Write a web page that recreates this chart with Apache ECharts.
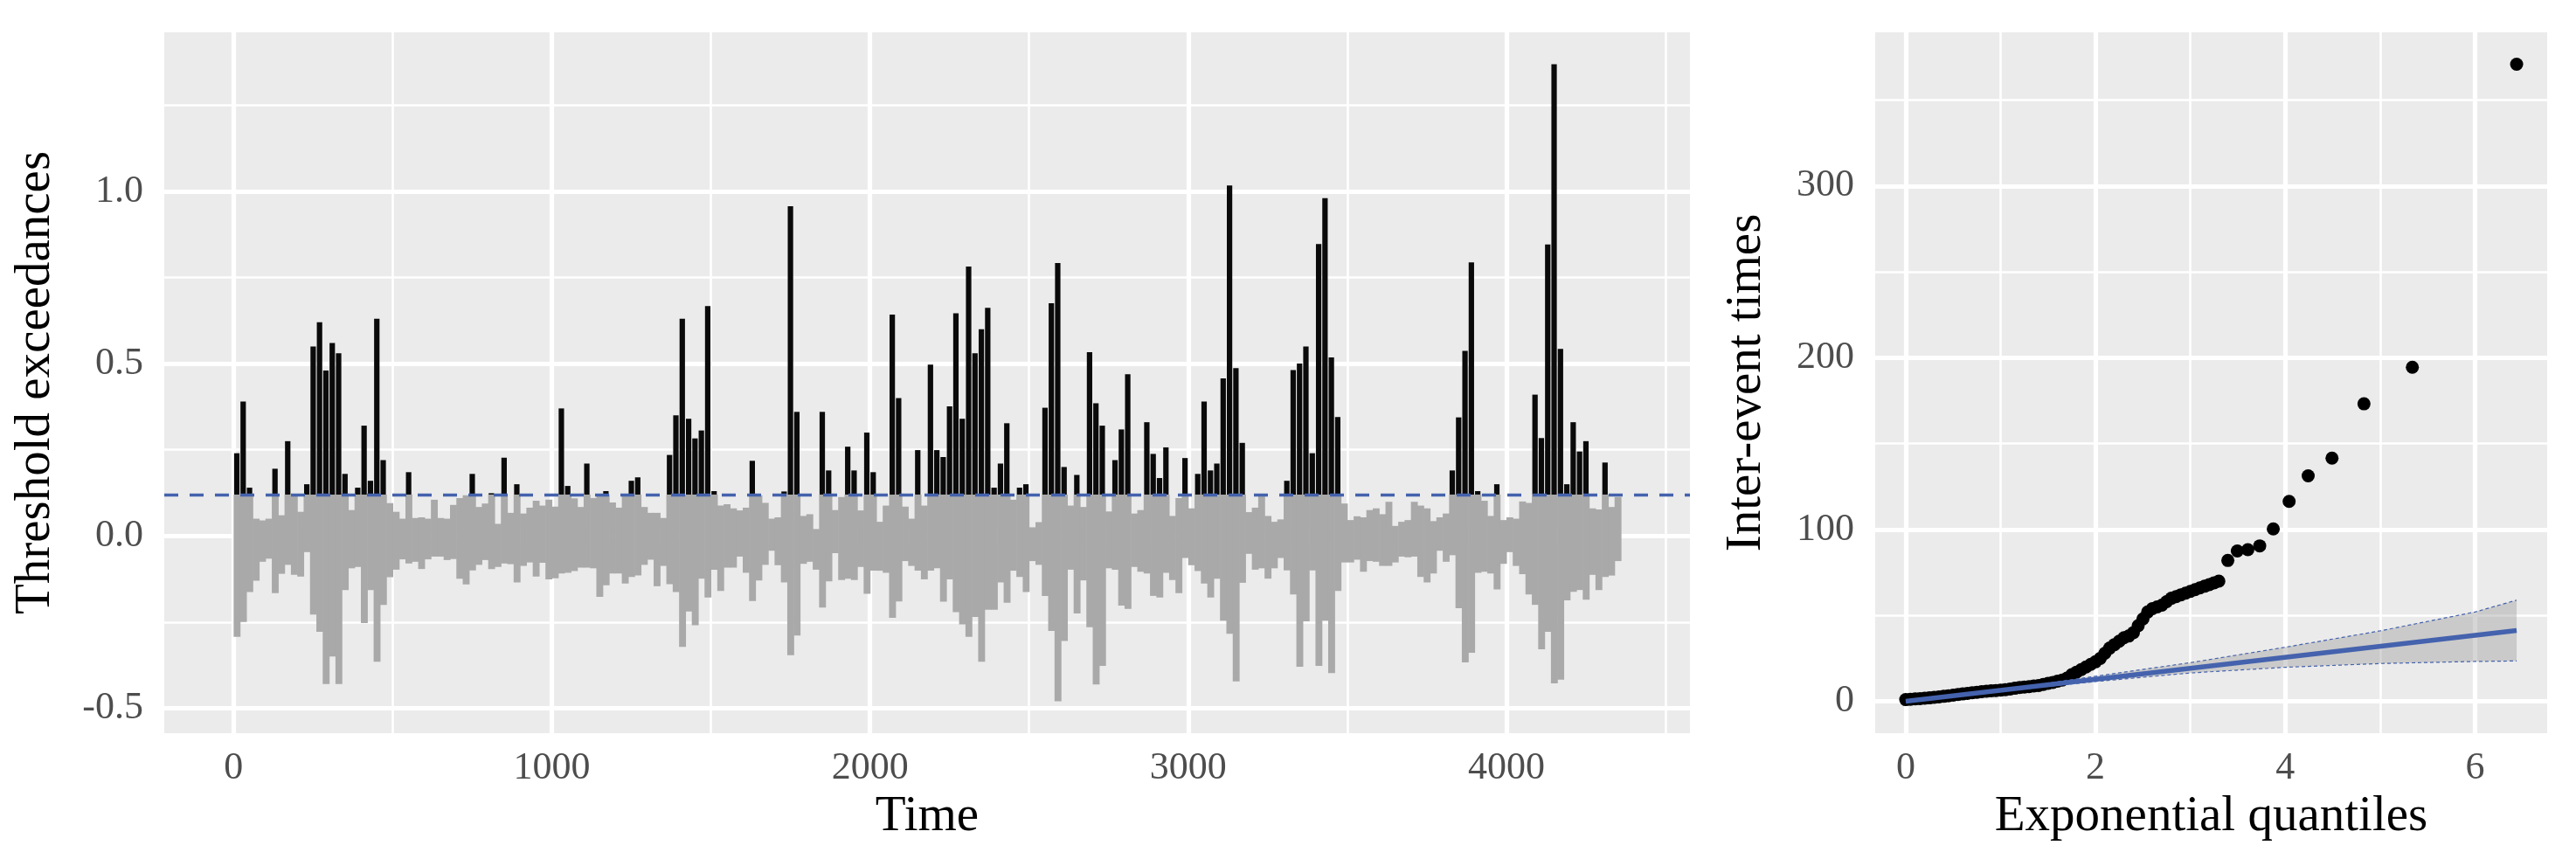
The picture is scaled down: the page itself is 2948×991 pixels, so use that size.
<!DOCTYPE html>
<html>
<head>
<meta charset="utf-8">
<script src="https://cdn.jsdelivr.net/npm/echarts@6/dist/echarts.min.js"></script>
<style>
  html, body { margin: 0; padding: 0; background: #ffffff; }
  #chart { width: 2948px; height: 991px; }
</style>
</head>
<body>
<div id="chart"></div>
<script>
// left panel: the series summarised per 20-step bin (highest and lowest value in the bin)
const binWidth = 20
const seriesEnd = 4359
const threshold = 0.12
const binHigh = [
  0.24, 0.39, 0.14, 0.05, 0.045, 0.05, 0.195, 0.06, 0.275, 0.115, 0.07, 0.15, 0.55, 0.62, 0.48, 0.56, 0.53, 0.18, 0.075, 0.14,
  0.32, 0.16, 0.63, 0.22, 0.095, 0.07, 0.05, 0.185, 0.052, 0.054, 0.05, 0.105, 0.052, 0.05, 0.09, 0.11, 0.118, 0.18, 0.084, 0.094,
  0.124, 0.035, 0.227, 0.067, 0.15, 0.065, 0.082, 0.102, 0.088, 0.105, 0.085, 0.37, 0.145, 0.109, 0.084, 0.21, 0.11, 0.115, 0.13, 0.097,
  0.082, 0.118, 0.16, 0.17, 0.084, 0.067, 0.067, 0.052, 0.235, 0.35, 0.63, 0.34, 0.283, 0.306, 0.667, 0.13, 0.088, 0.092, 0.08, 0.074,
  0.082, 0.218, 0.118, 0.096, 0.05, 0.054, 0.129, 0.957, 0.36, 0.058, 0.063, 0.02, 0.36, 0.19, 0.075, 0.113, 0.259, 0.19, 0.074, 0.3,
  0.185, 0.041, 0.088, 0.642, 0.4, 0.085, 0.05, 0.249, 0.088, 0.497, 0.249, 0.229, 0.376, 0.646, 0.34, 0.782, 0.53, 0.6, 0.662, 0.14,
  0.21, 0.327, 0.105, 0.14, 0.15, 0.025, 0.04, 0.372, 0.675, 0.792, 0.2, 0.088, 0.177, 0.084, 0.533, 0.385, 0.32, 0.071, 0.22, 0.309,
  0.469, 0.065, 0.075, 0.33, 0.238, 0.168, 0.257, 0.058, 0.11, 0.226, 0.08, 0.18, 0.39, 0.19, 0.21, 0.457, 1.017, 0.487, 0.27, 0.069,
  0.082, 0.118, 0.058, 0.041, 0.048, 0.16, 0.481, 0.5, 0.55, 0.24, 0.847, 0.98, 0.518, 0.345, 0.094, 0.046, 0.057, 0.054, 0.075, 0.08,
  0.063, 0.099, 0.029, 0.041, 0.046, 0.099, 0.088, 0.08, 0.043, 0.054, 0.065, 0.19, 0.344, 0.537, 0.794, 0.13, 0.102, 0.058, 0.15, 0.046,
  0.054, 0.05, 0.1, 0.096, 0.41, 0.284, 0.846, 1.369, 0.543, 0.15, 0.33, 0.245, 0.275, 0.08, 0.077, 0.213, 0.084, 0.113
]
const binLow = [
  -0.293, -0.25, -0.163, -0.13, -0.075, -0.066, -0.166, -0.11, -0.084, -0.113, -0.118, -0.047, -0.228, -0.278, -0.43, -0.35, -0.43, -0.157, -0.094, -0.09,
  -0.253, -0.157, -0.365, -0.2, -0.12, -0.098, -0.068, -0.08, -0.075, -0.096, -0.068, -0.06, -0.06, -0.07, -0.067, -0.124, -0.141, -0.1, -0.084, -0.07,
  -0.096, -0.09, -0.08, -0.082, -0.135, -0.087, -0.077, -0.118, -0.078, -0.126, -0.123, -0.109, -0.107, -0.102, -0.092, -0.092, -0.094, -0.177, -0.143, -0.109,
  -0.109, -0.138, -0.119, -0.115, -0.084, -0.069, -0.146, -0.087, -0.14, -0.163, -0.322, -0.219, -0.259, -0.124, -0.179, -0.098, -0.16, -0.092, -0.092, -0.06,
  -0.107, -0.189, -0.129, -0.084, -0.043, -0.085, -0.135, -0.346, -0.289, -0.081, -0.075, -0.098, -0.208, -0.132, -0.05, -0.128, -0.124, -0.128, -0.09, -0.168,
  -0.101, -0.101, -0.107, -0.238, -0.19, -0.073, -0.087, -0.101, -0.126, -0.101, -0.094, -0.191, -0.126, -0.221, -0.257, -0.293, -0.235, -0.365, -0.214, -0.214,
  -0.135, -0.194, -0.101, -0.119, -0.163, -0.073, -0.084, -0.174, -0.276, -0.48, -0.305, -0.098, -0.225, -0.129, -0.265, -0.431, -0.377, -0.094, -0.098, -0.202,
  -0.212, -0.09, -0.104, -0.109, -0.174, -0.179, -0.107, -0.128, -0.166, -0.064, -0.085, -0.102, -0.138, -0.179, -0.124, -0.246, -0.284, -0.422, -0.136, -0.052,
  -0.098, -0.094, -0.124, -0.094, -0.064, -0.1, -0.17, -0.38, -0.248, -0.1, -0.377, -0.246, -0.398, -0.16, -0.077, -0.077, -0.069, -0.104, -0.073, -0.075,
  -0.087, -0.087, -0.077, -0.06, -0.062, -0.06, -0.119, -0.135, -0.109, -0.043, -0.075, -0.056, -0.21, -0.367, -0.339, -0.107, -0.104, -0.109, -0.155, -0.081,
  -0.047, -0.087, -0.111, -0.17, -0.2, -0.329, -0.278, -0.428, -0.417, -0.187, -0.162, -0.157, -0.185, -0.113, -0.157, -0.119, -0.115, -0.073
]
const timeTicks = [0, 1000, 2000, 3000, 4000]
const timeMinor = [500, 1500, 2500, 3500, 4500]
const valueTicks = [-0.5, 0, 0.5, 1]
const valueMinor = [-0.25, 0.25, 0.75, 1.25]

// right panel: QQ plot of inter-event times against exponential quantiles
const qqX = [
  0, 0.05, 0.1, 0.15, 0.2, 0.25, 0.3, 0.35, 0.4, 0.45, 0.5, 0.55, 0.6, 0.65, 0.7, 0.75, 0.8, 0.85, 0.9, 0.95,
  1, 1.05, 1.1, 1.15, 1.2, 1.25, 1.3, 1.35, 1.4, 1.45, 1.5, 1.55, 1.6, 1.65, 1.7, 1.75, 1.8, 1.85, 1.9, 1.95,
  2, 2.05, 2.1, 2.15, 2.2, 2.25, 2.3, 2.35, 2.4, 2.45, 2.5, 2.55, 2.6, 2.65, 2.7, 2.75, 2.8, 2.85, 2.9, 2.95,
  3, 3.05, 3.1, 3.15, 3.2, 3.25, 3.3, 3.395, 3.495, 3.606, 3.731, 3.874, 4.041, 4.242, 4.493, 4.83, 5.34, 6.439
]
const qqY = [
  1, 1.2, 1.4, 1.6, 1.8, 2, 2.3, 2.6, 2.9, 3.2, 3.6, 4, 4.3, 4.6, 5, 5.3, 5.6, 5.9, 6.1, 6.3,
  6.5, 6.8, 7.2, 7.6, 8, 8.3, 8.6, 8.9, 9.2, 9.8, 10.5, 11, 11.7, 12.4, 13.5, 15.5, 17, 18.5, 20, 21.5,
  23, 25, 28, 31, 33, 35, 37, 38, 40, 44, 48, 52, 54, 55, 56, 58, 60, 61, 62, 63,
  64, 65, 66, 67, 68, 69, 70, 82, 87.5, 88.3, 90.5, 100.4, 116.4, 131.3, 141.6, 173.2, 194.5, 370.9
]
const fitX = [0, 6.439]
const fitY = [0, 41.2]
const bandX = [0, 1, 2, 3, 4, 5, 6, 6.439]
const bandUpper = [0.3, 6.8, 14.6, 22.5, 31.5, 41, 52, 58.9]
const bandLower = [-0.3, 5.9, 11.5, 16.5, 19.8, 22, 23.2, 23.5]
const quantTicks = [0, 2, 4, 6]
const quantMinor = [1, 3, 5]
const timeGapTicks = [0, 100, 200, 300]
const timeGapMinor = [50, 150, 250, 350]

const font = "'Liberation Serif', serif"
const bg = '#ebebeb'
const blue = '#4462ad'

// ggplot-style 5% expansion of the data ranges
function expand (lo, hi) {
  const pad = (hi - lo) * 0.05
  return [lo - pad, hi + pad]
}
const xL = expand(0, seriesEnd)
const yL = expand(Math.min(...binLow), Math.max(...binHigh))
const xR = expand(0, Math.max(...qqX))
const yR = expand(0, Math.max(...qqY))

// one item per bin: [bin start, low, high]
const bins = binHigh.map((h, k) => [k * binWidth, binLow[k], h])
const exceedBins = bins.filter(b => b[2] > threshold)

function gridLines (xs, ys, width) {
  return xs.map(v => ({ xAxis: v, lineStyle: { width } }))
    .concat(ys.map(v => ({ yAxis: v, lineStyle: { width } })))
}
function gridSeries (idx, xMajor, xMinor, yMajor, yMinor) {
  return {
    type: 'line', xAxisIndex: idx, yAxisIndex: idx, data: [], z: 1, silent: true,
    markLine: {
      z: 1, silent: true, symbol: ['none', 'none'], label: { show: false }, animation: false,
      emphasis: { disabled: true },
      lineStyle: { color: '#ffffff', type: 'solid' },
      data: gridLines(xMinor, yMinor, 2.6).concat(gridLines(xMajor, yMajor, 5.2))
    }
  }
}

function xAxisOf (idx, range, ticks, name, fmt) {
  return {
    gridIndex: idx, type: 'value', min: range[0], max: range[1],
    axisLine: { show: false },
    splitLine: { show: false },
    axisTick: { show: true, length: 12, customValues: ticks, lineStyle: { color: '#333333', width: 4 } },
    axisLabel: { customValues: ticks, color: '#4d4d4d', fontFamily: font, fontSize: 44, margin: 18, formatter: fmt },
    name, nameLocation: 'middle', nameGap: 68,
    nameTextStyle: { color: '#000000', fontFamily: font, fontSize: 57 }
  }
}
function yAxisOf (idx, range, ticks, name, fmt) {
  return {
    gridIndex: idx, type: 'value', min: range[0], max: range[1],
    axisLine: { show: false },
    splitLine: { show: false },
    axisTick: { show: true, length: 12, customValues: ticks, lineStyle: { color: '#333333', width: 4 } },
    axisLabel: { customValues: ticks, color: '#4d4d4d', fontFamily: font, fontSize: 44, margin: 24, formatter: fmt },
    name, nameLocation: 'middle', nameGap: 118,
    nameTextStyle: { color: '#000000', fontFamily: font, fontSize: 57 }
  }
}

const chart = echarts.init(document.getElementById('chart'), null, { renderer: 'canvas' })
chart.setOption({
  animation: false,
  backgroundColor: '#ffffff',
  grid: [
    { left: 188, top: 37, width: 1746, height: 802, show: true, backgroundColor: bg, borderWidth: 0, outerBoundsMode: 'none' },
    { left: 2146, top: 37, width: 769, height: 802, show: true, backgroundColor: bg, borderWidth: 0, outerBoundsMode: 'none' }
  ],
  xAxis: [
    xAxisOf(0, xL, timeTicks, 'Time', v => String(v)),
    xAxisOf(1, xR, quantTicks, 'Exponential quantiles', v => String(v))
  ],
  yAxis: [
    yAxisOf(0, yL, valueTicks, 'Threshold exceedances', v => v.toFixed(1)),
    yAxisOf(1, yR, timeGapTicks, 'Inter-event times', v => String(v))
  ],
  series: [
    gridSeries(0, timeTicks, timeMinor, valueTicks, valueMinor),
    {
      // grey part of the series, up to the threshold
      type: 'custom', xAxisIndex: 0, yAxisIndex: 0, z: 2, silent: true,
      data: bins,
      renderItem: (params, api) => {
        const t0 = api.value(0)
        const top = api.coord([t0, Math.min(api.value(2), threshold)])
        const bottom = api.coord([t0 + binWidth, api.value(1)])
        return {
          type: 'rect',
          shape: { x: top[0], y: top[1], width: bottom[0] - top[0] + 0.6, height: bottom[1] - top[1] },
          style: { fill: '#a9a9a9' }
        }
      }
    },
    {
      // black part above the threshold
      type: 'custom', xAxisIndex: 0, yAxisIndex: 0, z: 3, silent: true,
      data: exceedBins,
      renderItem: (params, api) => {
        const mid = api.value(0) + binWidth / 2
        const top = api.coord([mid, api.value(2)])
        const base = api.coord([mid, threshold])
        return {
          type: 'rect',
          shape: { x: top[0] - 3.1, y: top[1], width: 6.2, height: base[1] - top[1] },
          style: { fill: '#0a0a0a' }
        }
      }
    },
    {
      type: 'line', xAxisIndex: 0, yAxisIndex: 0, data: [], z: 4, silent: true,
      markLine: {
        z: 6, silent: true, symbol: ['none', 'none'], label: { show: false }, animation: false,
        lineStyle: { color: blue, width: 3.4, type: [16, 13] },
        data: [{ yAxis: threshold }]
      }
    },
    gridSeries(1, quantTicks, quantMinor, timeGapTicks, timeGapMinor),
    {
      type: 'scatter', xAxisIndex: 1, yAxisIndex: 1, z: 2, silent: true,
      data: qqX.map((x, i) => [x, qqY[i]]),
      symbolSize: 15, itemStyle: { color: '#000000', opacity: 1 }
    },
    {
      type: 'custom', xAxisIndex: 1, yAxisIndex: 1, z: 3, silent: true,
      data: [[0, 0]],
      renderItem: (params, api) => {
        const pts = bandX.map((x, i) => api.coord([x, bandUpper[i]]))
        for (let i = bandX.length - 1; i >= 0; i--) pts.push(api.coord([bandX[i], bandLower[i]]))
        return { type: 'polygon', shape: { points: pts }, style: { fill: 'rgba(153,153,153,0.4)' } }
      }
    },
    {
      type: 'line', xAxisIndex: 1, yAxisIndex: 1, z: 4, silent: true, showSymbol: false,
      data: bandX.map((x, i) => [x, bandUpper[i]]),
      lineStyle: { color: blue, width: 1.2, type: [4, 3] }
    },
    {
      type: 'line', xAxisIndex: 1, yAxisIndex: 1, z: 4, silent: true, showSymbol: false,
      data: bandX.map((x, i) => [x, bandLower[i]]),
      lineStyle: { color: blue, width: 1.2, type: [4, 3] }
    },
    {
      type: 'line', xAxisIndex: 1, yAxisIndex: 1, z: 5, silent: true, showSymbol: false,
      data: fitX.map((x, i) => [x, fitY[i]]),
      lineStyle: { color: blue, width: 5.5 }
    }
  ]
})
</script>
</body>
</html>
